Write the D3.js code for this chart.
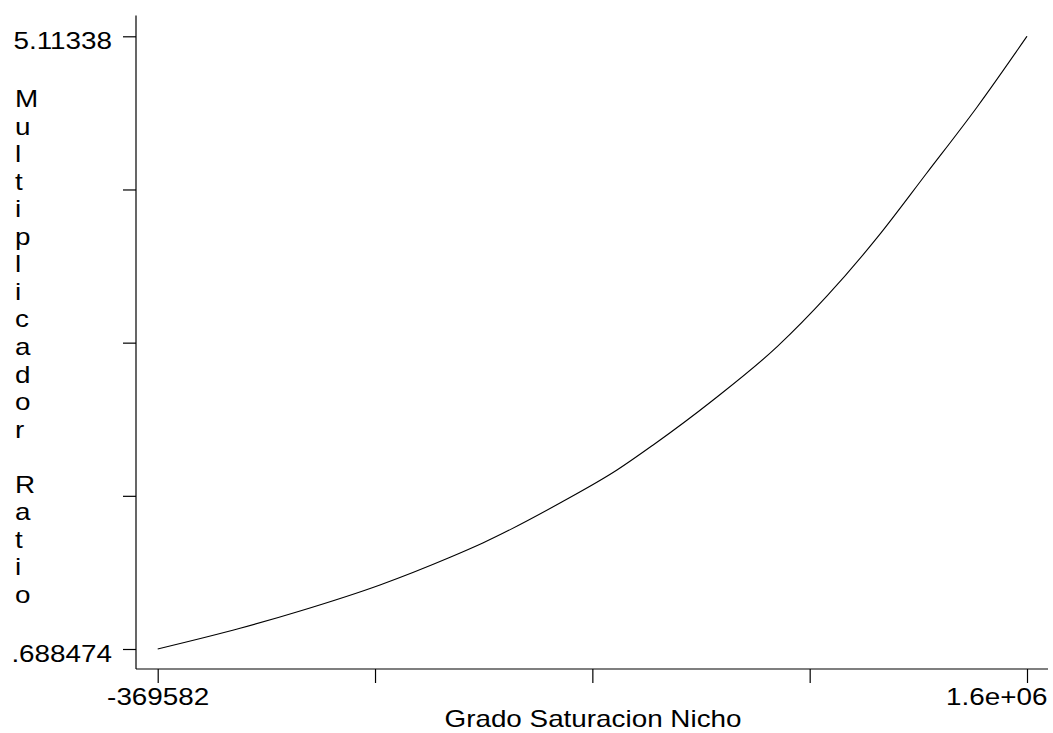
<!DOCTYPE html>
<html>
<head>
<meta charset="utf-8">
<script src="https://cdn.jsdelivr.net/npm/d3@7"></script>
<style>
  html, body { margin: 0; padding: 0; background: #fff; }
  svg { display: block; }
  text { font-family: "Liberation Sans", Arial, Helvetica, sans-serif; fill: #000; }
</style>
</head>
<body>
<svg id="chart" width="1053" height="733"></svg>
<script>
// ---- data ----
const xValues = [-369582, -183000, -47000, 134000, 293000, 367000, 546000, 671000, 753000, 889000, 1034000, 1147000, 1260000, 1373000, 1487000, 1600000];
const yValues = [0.6885, 0.838, 0.963, 1.151, 1.351, 1.454, 1.750, 1.981, 2.162, 2.487, 2.872, 3.238, 3.657, 4.126, 4.603, 5.11338];

const xTicks = [-369582, 122813.5, 615209, 1107604.5, 1600000];
const xTickLabels = ["-369582", "", "", "", "1.6e+06"];
const yTicks = [0.688474, 1.7947005, 2.900927, 4.0071535, 5.11338];
const yTickLabels = [".688474", "", "", "", "5.11338"];

const xTitle = "Grado Saturacion Nicho";
const yTitle = "Multiplicador Ratio";

// ---- layout ----
const svg = d3.select("#chart");
const axisX0 = 136, axisX1 = 1048;   // x axis line extent
const axisY0 = 15.5, axisY1 = 669;   // y axis line extent
const stretch = 1.16;
const fontSize = 24;

const x = d3.scaleLinear().domain([xTicks[0], xTicks[xTicks.length - 1]]).range([157.7, 1027]);
const y = d3.scaleLinear().domain([yTicks[0], yTicks[yTicks.length - 1]]).range([649, 36.3]);

// axis lines
svg.append("line").attr("x1", axisX0).attr("x2", axisX0).attr("y1", axisY0).attr("y2", axisY1)
  .attr("stroke", "#000").attr("stroke-width", 1.2);
svg.append("line").attr("x1", axisX0).attr("x2", axisX1).attr("y1", axisY1).attr("y2", axisY1)
  .attr("stroke", "#000").attr("stroke-width", 1.2);

// y axis
const yAxis = d3.axisLeft(y).tickValues(yTicks).tickSize(13)
  .tickFormat((d, i) => yTickLabels[i]);
const gy = svg.append("g").attr("transform", `translate(${axisX0},0)`).call(yAxis);
gy.select(".domain").remove();
gy.selectAll(".tick line").attr("stroke", "#000").attr("stroke-width", 1.2);
gy.selectAll(".tick text")
  .attr("x", 0).attr("dy", null)
  .attr("transform", `translate(-24,12) scale(${stretch},1)`)
  .attr("text-anchor", "end")
  .style("font-size", fontSize + "px")
  .style("font-family", "'Liberation Sans', Arial, sans-serif")
  .attr("fill", "#000");

// x axis
const xAxis = d3.axisBottom(x).tickValues(xTicks).tickSize(14)
  .tickFormat((d, i) => xTickLabels[i]);
const gx = svg.append("g").attr("transform", `translate(0,${axisY1})`).call(xAxis);
gx.select(".domain").remove();
gx.selectAll(".tick line").attr("stroke", "#000").attr("stroke-width", 1.2);
gx.selectAll(".tick text")
  .attr("y", 0).attr("dy", null)
  .attr("transform", (d, i) => i === xTicks.length - 1
      ? `translate(20,36) scale(${stretch},1)`
      : `translate(0,36) scale(${stretch},1)`)
  .attr("text-anchor", (d, i) => i === xTicks.length - 1 ? "end" : "middle")
  .style("font-size", fontSize + "px")
  .style("font-family", "'Liberation Sans', Arial, sans-serif")
  .attr("fill", "#000");

// x title
svg.append("g")
  .attr("transform", `translate(593,727) scale(${stretch},1)`)
  .append("text").attr("text-anchor", "middle")
  .style("font-size", fontSize + "px")
  .text(xTitle);

// y title, stacked letters
const yt = svg.append("g");
yTitle.split("").forEach((ch, i) => {
  yt.append("g")
    .attr("transform", `translate(15,${107.3 + i * 27.52}) scale(${stretch},1)`)
    .append("text").attr("text-anchor", "start")
    .style("font-size", fontSize + "px")
    .text(ch);
});

// curve
const data = xValues.map((v, i) => ({ x: v, y: yValues[i] }));
const line = d3.line().x(d => x(d.x)).y(d => y(d.y)).curve(d3.curveMonotoneX);
svg.append("path").datum(data)
  .attr("d", line)
  .attr("fill", "none")
  .attr("stroke", "#000")
  .attr("stroke-width", 1.1);
</script>
</body>
</html>
